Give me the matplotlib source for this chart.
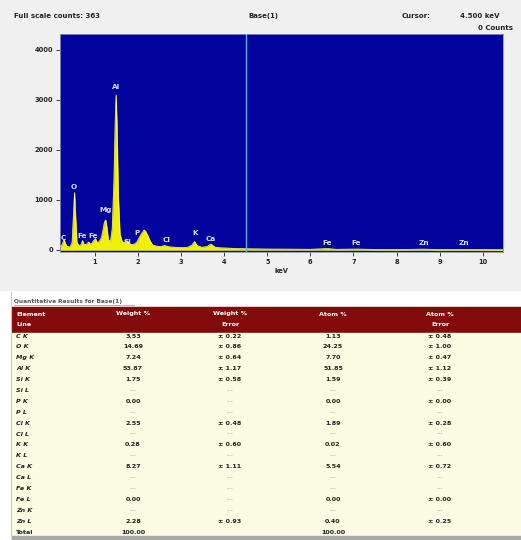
import numpy as np
import matplotlib.pyplot as plt
from matplotlib.patches import Rectangle

# spectrum vertices (keV, counts)
kev = [0.20, 0.24, 0.28, 0.32, 0.36, 0.42, 0.47, 0.50, 0.525, 0.55, 0.58, 0.63,
       0.68, 0.71, 0.74, 0.80, 0.85, 0.90, 0.93, 0.97, 1.01, 1.05, 1.10, 1.15,
       1.19, 1.22, 1.25, 1.28, 1.31, 1.36, 1.40, 1.44, 1.47, 1.49, 1.51, 1.54,
       1.58, 1.63, 1.69, 1.74, 1.79, 1.85, 1.92, 1.98, 2.02, 2.08, 2.14, 2.17,
       2.22, 2.28, 2.34, 2.42, 2.52, 2.62, 2.72, 2.85, 3.00, 3.15, 3.25, 3.31,
       3.37, 3.48, 3.60, 3.69, 3.78, 3.90, 4.05, 4.30, 4.60, 5.00, 5.50, 6.00,
       6.40, 6.60, 7.06, 7.50, 8.00, 8.63, 9.00, 9.57, 10.0, 10.5]
counts = [60, 110, 210, 120, 70, 60, 150, 700, 1150, 650, 150, 90,
          110, 190, 120, 110, 160, 120, 140, 190, 230, 150, 170, 250,
          420, 560, 600, 430, 200, 180, 420, 1400, 2600, 3100, 2500, 1100,
          320, 170, 150, 190, 130, 110, 120, 170, 240, 330, 400, 380,
          300, 180, 100, 80, 70, 90, 65, 55, 50, 55, 100, 170,
          90, 55, 70, 120, 60, 45, 40, 30, 25, 20, 18, 15,
          30, 14, 20, 12, 10, 18, 9, 12, 8, 6]

# peak markers: name, energy, label height
peak_names = ['C', 'O', 'Fe', 'Fe', 'Mg', 'Al', 'Si', 'P', 'Cl', 'K', 'Ca',
              'Fe', 'Fe', 'Zn', 'Zn']
peak_kev = [0.26, 0.50, 0.70, 0.96, 1.25, 1.49, 1.75, 1.98, 2.67, 3.32, 3.69,
            6.38, 7.06, 8.63, 9.57]
peak_y = [240, 1260, 280, 280, 800, 3260, 160, 340, 200, 340, 220,
          140, 140, 140, 140]

cursor_kev = 4.5

# quantitative table
elements = ['C K', 'O K', 'Mg K', 'Al K', 'Si K', 'Si L', 'P K', 'P L', 'Cl K',
            'Cl L', 'K K', 'K L', 'Ca K', 'Ca L', 'Fe K', 'Fe L', 'Zn K', 'Zn L']
weight = ['3.53', '14.69', '7.24', '53.87', '1.75', '---', '0.00', '---', '2.55',
          '---', '0.28', '---', '8.27', '---', '---', '0.00', '---', '2.28']
weight_err = ['± 0.22', '± 0.86', '± 0.64', '± 1.17', '± 0.58', '---', '---', '---',
              '± 0.48', '---', '± 0.60', '---', '± 1.11', '---', '---', '---',
              '---', '± 0.93']
atom = ['1.13', '24.25', '7.70', '51.85', '1.59', '---', '0.00', '---', '1.89',
        '---', '0.02', '---', '5.54', '---', '---', '0.00', '---', '0.40']
atom_err = ['± 0.48', '± 1.00', '± 0.47', '± 1.12', '± 0.39', '---', '± 0.00', '---',
            '± 0.28', '---', '± 0.60', '---', '± 0.72', '---', '---', '± 0.00',
            '---', '± 0.25']
total_weight = '100.00'
total_atom = '100.00'

W, H = 521, 540
fig = plt.figure(figsize=(W / 100, H / 100), dpi=100)
fig.patch.set_facecolor('white')

# pixel-space overlay for panels, header text and the table
bg = fig.add_axes([0, 0, 1, 1])
bg.set_xlim(0, W)
bg.set_ylim(H, 0)
bg.axis('off')
bg.add_patch(Rectangle((0, 0), W, 290, color='#f0f0f0', zorder=0))

txt = dict(fontsize=5, fontweight='bold', color='#222222')
bg.text(14, 16, 'Full scale counts: 363', ha='left', va='center', **txt)
bg.text(248, 16, 'Base(1)', ha='left', va='center', **txt)
bg.text(402, 16, 'Cursor:', ha='left', va='center', **txt)
bg.text(500, 16, '4.500 keV', ha='right', va='center', **txt)
bg.text(513, 28, '0 Counts', ha='right', va='center', **txt)

# spectrum
ax = fig.add_axes([60 / W, 1 - 252 / H, 443 / W, 218 / H])
ax.set_facecolor('#02029c')
ax.fill_between(kev, 0, counts, color='#f0f000', lw=0.4, zorder=2)
ax.plot(kev, counts, color='#ffff70', lw=0.5, zorder=3)
ax.axvline(cursor_kev, color='#58b8ff', lw=1.0, zorder=4)
for name, x, y in zip(peak_names, peak_kev, peak_y):
    ax.text(x, y, name, ha='center', va='center', fontsize=5.2,
            fontweight='bold', color='#dcdcff', zorder=5)
ax.set_xlim(0.19, 10.47)
ax.set_ylim(-40, 4320)
ax.set_xticks(range(1, 11))
ax.set_yticks([0, 1000, 2000, 3000, 4000])
ax.tick_params(labelsize=4.8, length=3, width=0.6, colors='#222222', pad=2)
for lbl in ax.get_xticklabels() + ax.get_yticklabels():
    lbl.set_fontweight('bold')
ax.set_xlabel('keV', fontsize=4.8, fontweight='bold', color='#222222', labelpad=2)
for s in ax.spines.values():
    s.set_color('#9090c0')
    s.set_linewidth(0.6)

# table
bg.plot([11, 11], [292, 537], color='#c8c8c8', lw=0.8)
bg.text(14, 301, 'Quantitative Results for Base(1)', ha='left', va='center',
        fontsize=4.2, fontweight='bold', color='#555555')
bg.plot([14, 134], [305, 305], color='#777777', lw=0.4)
bg.add_patch(Rectangle((12, 307), W - 12, 26, color='#820a0a', zorder=1))
bg.add_patch(Rectangle((12, 333), W - 12, 204, color='#fcfce2', zorder=1))
bg.add_patch(Rectangle((12, 536), W - 12, 4, color='#a8a8a8', zorder=1))

cols_x = [133, 230, 333, 440]
hdr = dict(fontsize=4.6, fontweight='bold', color='white', va='center', zorder=3)
bg.text(16, 314, 'Element', ha='left', **hdr)
bg.text(16, 325, 'Line', ha='left', **hdr)
for x, top, bottom in zip(cols_x, ['Weight %', 'Weight %', 'Atom %', 'Atom %'],
                          ['', 'Error', '', 'Error']):
    bg.text(x, 314, top, ha='center', **hdr)
    if bottom:
        bg.text(x, 325, bottom, ha='center', **hdr)

row0, step = 336, 10.9
for i, el in enumerate(elements):
    y = row0 + i * step
    bg.text(16, y, el, ha='left', va='center', fontsize=4.6, fontweight='bold',
            style='italic', color='#222222', zorder=3)
    for x, vals in zip(cols_x, [weight, weight_err, atom, atom_err]):
        v = vals[i]
        dim = v == '---'
        bg.text(x, y, v, ha='center', va='center', fontsize=4.6,
                fontweight='normal' if dim else 'bold',
                color='#a0a0a0' if dim else '#222222', zorder=3)
y = row0 + len(elements) * step
bg.text(16, y, 'Total', ha='left', va='center', fontsize=4.6, fontweight='bold',
        color='#222222', zorder=3)
bg.text(cols_x[0], y, total_weight, ha='center', va='center', fontsize=4.6,
        fontweight='bold', color='#222222', zorder=3)
bg.text(cols_x[2], y, total_atom, ha='center', va='center', fontsize=4.6,
        fontweight='bold', color='#222222', zorder=3)

fig.savefig('out.png', dpi=100)
